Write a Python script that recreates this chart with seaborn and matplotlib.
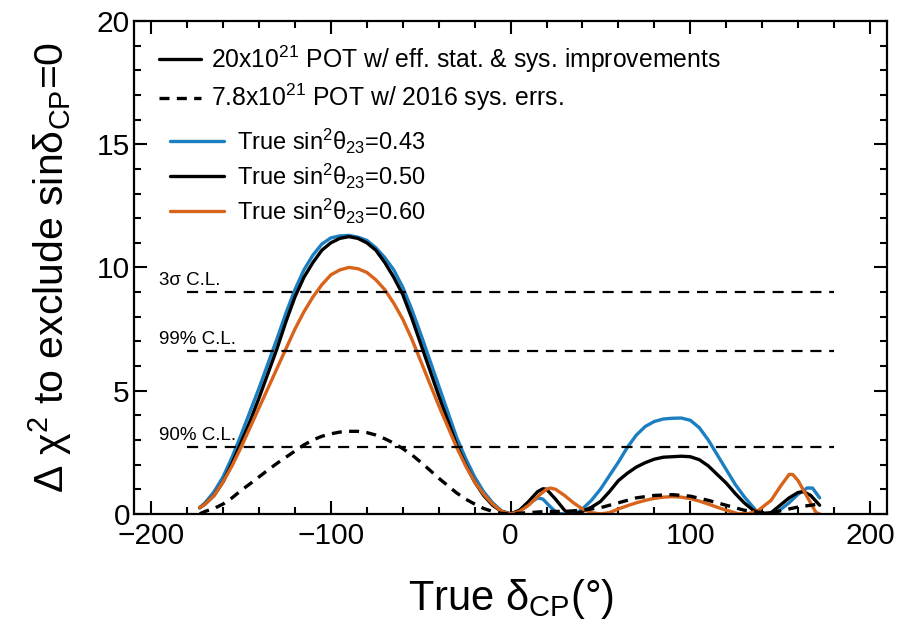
import numpy as np
import pandas as pd
import matplotlib
matplotlib.use("Agg")
import matplotlib.pyplot as plt
from matplotlib.lines import Line2D
from matplotlib.ticker import MultipleLocator
import seaborn as sns

# True delta_CP (degrees) on the negative side, shared by all curves
delta_neg = [-173, -170, -165, -160, -155, -150, -145, -140, -135, -130, -125,
             -120, -115, -110, -105, -100, -95, -90, -85, -80, -75, -70, -65,
             -60, -55, -50, -45, -40, -35, -30, -25, -20, -15, -10, -5, 0]

# sin^2(theta23) = 0.43, 20e21 POT with improvements
delta_043 = delta_neg + [5, 10, 15, 18, 22, 26, 30, 36, 40, 45, 50, 55, 60, 65,
                         70, 75, 80, 85, 90, 95, 100, 105, 110, 115, 120, 125,
                         130, 137, 142, 148, 155, 160, 165, 168, 172]
chi2_043 = [0.25, 0.45, 0.9, 1.5, 2.3, 3.2, 4.15, 5.1, 6.1, 7.1, 8.15, 9.1,
            9.9, 10.5, 10.95, 11.2, 11.28, 11.3, 11.23, 11.1, 10.8, 10.4, 9.9,
            9.2, 8.3, 7.3, 6.25, 5.2, 4.15, 3.1, 2.25, 1.5, 0.9, 0.45, 0.12, 0.0,
            0.12, 0.4, 0.65, 0.6, 0.3, 0.02, 0.0, 0.0, 0.2,
            0.55, 1.0, 1.55, 2.1, 2.7, 3.2, 3.55, 3.75, 3.85, 3.88, 3.89, 3.8,
            3.5, 3.0, 2.4, 1.8, 1.2, 0.7,
            0.1, 0.0, 0.05, 0.45, 0.8, 1.05, 1.05, 0.65]

# sin^2(theta23) = 0.50, 20e21 POT with improvements
delta_050 = delta_neg + [5, 10, 15, 18, 20, 25, 30, 33, 36, 40, 45, 50, 55, 60,
                         65, 70, 75, 80, 85, 90, 95, 100, 105, 110, 115, 120,
                         125, 130, 135, 140, 145, 150, 155, 160, 163, 167, 172]
chi2_050 = [0.25, 0.4, 0.75, 1.3, 2.05, 2.9, 3.75, 4.7, 5.7, 6.7, 7.8, 8.8,
            9.6, 10.2, 10.7, 11.0, 11.18, 11.25, 11.18, 11.0, 10.7, 10.2, 9.6,
            8.9, 7.95, 6.9, 5.85, 4.8, 3.8, 2.8, 2.0, 1.3, 0.75, 0.35, 0.1, 0.0,
            0.15, 0.5, 0.9, 1.02, 1.0, 0.6, 0.15, 0.0, 0.0, 0.1,
            0.27, 0.5, 0.9, 1.35, 1.65, 1.9, 2.08, 2.22, 2.3, 2.32, 2.34, 2.32,
            2.2, 1.95, 1.6, 1.25, 0.83, 0.45, 0.15, 0.02, 0.05, 0.35, 0.65, 0.87,
            0.9, 0.75, 0.35]

# sin^2(theta23) = 0.60, 20e21 POT with improvements
delta_060 = delta_neg + [5, 10, 15, 20, 22, 25, 30, 35, 40, 45, 50, 55, 60, 65,
                         70, 75, 80, 85, 90, 95, 100, 105, 110, 115, 120, 127,
                         133, 138, 145, 150, 155, 157, 160, 165, 170, 172]
chi2_060 = [0.25, 0.4, 0.75, 1.3, 1.95, 2.7, 3.5, 4.3, 5.1, 5.9, 6.7, 7.5,
            8.2, 8.8, 9.3, 9.7, 9.9, 10.0, 9.95, 9.8, 9.5, 9.1, 8.55, 7.9, 7.1,
            6.2, 5.3, 4.4, 3.55, 2.7, 1.95, 1.3, 0.8, 0.4, 0.1, 0.0,
            0.1, 0.35, 0.7, 1.0, 1.05, 1.0, 0.75, 0.45, 0.2, 0.05,
            0.0, 0.05, 0.2, 0.33, 0.45, 0.55, 0.63, 0.68, 0.7, 0.68,
            0.62, 0.52, 0.4, 0.27, 0.15, 0.0, 0.02, 0.15, 0.55, 1.1,
            1.6, 1.6, 1.35, 0.7, 0.05, 0.0]

# sin^2(theta23) = 0.50, 7.8e21 POT with 2016 systematics
delta_78 = delta_neg + [10, 20, 30, 40, 50, 60, 70, 80, 90, 100, 110, 120, 130,
                        140, 145, 150, 155, 160, 165, 172]
chi2_78 = [0.0, 0.1, 0.22, 0.4, 0.65, 0.95, 1.22, 1.5, 1.78, 2.05, 2.3, 2.55,
           2.8, 3.0, 3.15, 3.25, 3.32, 3.35, 3.35, 3.3, 3.2, 3.05, 2.87, 2.65,
           2.4, 2.1, 1.78, 1.45, 1.15, 0.85, 0.6, 0.4, 0.22, 0.1, 0.02, 0.0,
           0.05, 0.1, 0.1, 0.15, 0.25, 0.45, 0.65, 0.75, 0.78, 0.72, 0.55,
           0.35, 0.15, 0.05, 0.05, 0.12, 0.2, 0.28, 0.33, 0.4]

# Confidence-level reference lines
cl_values = [9.0, 6.63, 2.71]
cl_labels = ["3σ C.L.", "99% C.L.", "90% C.L."]
cl_span = [-180, 180]

series_labels = ["True sin$^{2}$θ$_{23}$=0.43", "True sin$^{2}$θ$_{23}$=0.50",
                 "True sin$^{2}$θ$_{23}$=0.60"]
exposure_labels = ["20x10$^{21}$ POT w/ eff. stat. & sys. improvements",
                   "7.8x10$^{21}$ POT w/ 2016 sys. errs."]

BLUE = "#1b7fc1"
ORANGE = "#d8631a"
BLACK = "black"

sns.set_style("ticks")
plt.rcParams["font.family"] = ["Liberation Sans", "DejaVu Sans"]
plt.rcParams["mathtext.fontset"] = "custom"
plt.rcParams["mathtext.rm"] = "Liberation Sans"
plt.rcParams["mathtext.it"] = "Liberation Sans"
plt.rcParams["mathtext.sf"] = "Liberation Sans"
plt.rcParams["text.color"] = "black"
plt.rcParams["axes.labelcolor"] = "black"
plt.rcParams["xtick.color"] = "black"
plt.rcParams["ytick.color"] = "black"

fig = plt.figure(figsize=(9, 6.29), dpi=100)
ax = fig.add_axes([0.149, 0.183, 0.8366, 0.7836])

dash_curve = (0, (3, 2.2))
for d, c, col, ls in [(delta_043, chi2_043, BLUE, "-"),
                      (delta_050, chi2_050, BLACK, "-"),
                      (delta_060, chi2_060, ORANGE, "-"),
                      (delta_78, chi2_78, BLACK, dash_curve)]:
    sns.lineplot(x=d, y=c, ax=ax, color=col, lw=2.4, estimator=None,
                 sort=False, linestyle=ls)

for v, lab in zip(cl_values, cl_labels):
    ax.hlines(v, cl_span[0], cl_span[1], colors="black", lw=1.6,
              linestyles=(0, (5, 3.5)))
    ax.text(-195.5, v + 0.12, lab, fontsize=13.5, ha="left", va="bottom")

ax.set_xlim(-209.5, 209.5)
ax.set_ylim(0, 20)
ax.xaxis.set_major_locator(MultipleLocator(100))
ax.xaxis.set_minor_locator(MultipleLocator(20))
ax.yaxis.set_major_locator(MultipleLocator(5))
ax.yaxis.set_minor_locator(MultipleLocator(1))
ax.tick_params(which="both", direction="in", top=True, right=True, width=1.5,
               labelsize=21.5, colors="black")
ax.tick_params(which="major", length=9.5, pad=3)
ax.tick_params(axis="x", which="major", pad=5.5)
ax.tick_params(which="minor", length=4.8)
for s in ax.spines.values():
    s.set_linewidth(1.6)
    s.set_color("black")

ax.set_xlabel("True δ$_{\\mathrm{CP}}$(°)", fontsize=30, labelpad=20)
ax.set_ylabel("Δ χ$^{2}$ to exclude sinδ$_{\\mathrm{CP}}$=0", fontsize=29.5,
              labelpad=16)

h1 = [Line2D([], [], color=BLACK, lw=2.4),
      Line2D([], [], color=BLACK, lw=2.4, linestyle=dash_curve)]
leg1 = ax.legend(h1, exposure_labels, loc="upper left",
                 bbox_to_anchor=(0.02, 0.975), frameon=False, fontsize=17.8,
                 handlelength=1.7, handletextpad=0.4, labelspacing=0.3,
                 borderaxespad=0)
ax.add_artist(leg1)
h2 = [Line2D([], [], color=BLUE, lw=2.4), Line2D([], [], color=BLACK, lw=2.4),
      Line2D([], [], color=ORANGE, lw=2.4)]
ax.legend(h2, series_labels, loc="upper left", bbox_to_anchor=(0.035, 0.805),
          frameon=False, fontsize=17, handlelength=2.3, handletextpad=0.55,
          labelspacing=0.25, borderaxespad=0)

fig.savefig("out.png", dpi=100)
